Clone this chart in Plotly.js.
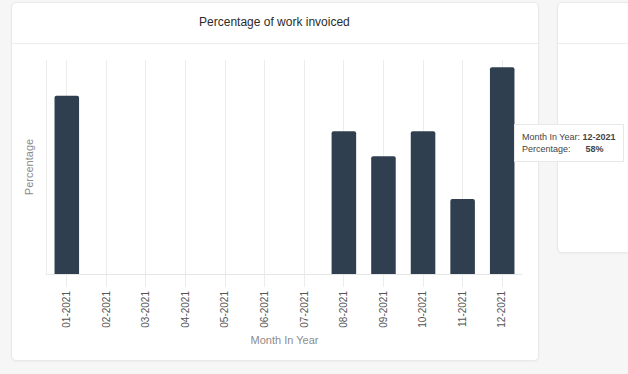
<!DOCTYPE html>
<html>
<head>
<meta charset="utf-8">
<script src="https://cdn.plot.ly/plotly-3.0.1.min.js"></script>
<style>
  html, body { margin: 0; padding: 0; width: 628px; height: 374px; background: #f6f6f6; overflow: hidden; font-family: "Liberation Sans", Arial, sans-serif; }
  .card { position: absolute; background: #fff; border: 1px solid #e9e9e9; border-radius: 5px; box-shadow: 0 1px 2px rgba(0,0,0,0.04); }
  .divider { position: absolute; left: 0; right: 0; top: 40px; height: 1px; background: #ededed; }
  #chart { position: absolute; left: 0; top: 0; width: 628px; height: 374px; }
</style>
</head>
<body>
<div class="card" style="left:11px; top:2px; width:526px; height:357px;"><div class="divider"></div></div>
<div class="card" style="left:557px; top:2px; width:90px; height:249px;"><div class="divider"></div></div>
<div id="chart"></div>
<script>
const months = ["01-2021","02-2021","03-2021","04-2021","05-2021","06-2021","07-2021","08-2021","09-2021","10-2021","11-2021","12-2021"];
const percentage = [50, 0, 0, 0, 0, 0, 0, 40, 33, 40, 21, 58];
const chartTitle = "Percentage of work invoiced";
const xTitle = "Month In Year";
const yTitle = "Percentage";
const hoverIndex = 11;

const trace = {
  type: "bar",
  x: months,
  y: percentage,
  marker: { color: "#2f3f50", cornerradius: 2 },
  hoverinfo: "none"
};

const layout = {
  width: 628, height: 374,
  margin: { l: 47, r: 106, t: 60, b: 100 },
  paper_bgcolor: "rgba(0,0,0,0)",
  plot_bgcolor: "rgba(0,0,0,0)",
  bargap: 0.38,
  showlegend: false,
  font: { family: "Liberation Sans, Arial, sans-serif" },
  title: {
    text: chartTitle,
    font: { size: 12, color: "#2b2b2b" },
    x: 0.437, xref: "container", xanchor: "center",
    y: 1 - 22/374, yref: "container", yanchor: "middle"
  },
  xaxis: {
    type: "category",
    tickangle: -90,
    tickfont: { size: 10, color: "#555555" },
    showgrid: true, gridcolor: "#ececec", gridwidth: 1,
    ticks: "outside", ticklen: 12, tickcolor: "#ececec",
    showline: true, linecolor: "#e6e6e6", linewidth: 1,
    title: { text: xTitle, font: { size: 11, color: "#8c8c8c" }, standoff: 9 },
    fixedrange: true
  },
  yaxis: {
    range: [0, 60],
    showticklabels: false,
    showgrid: false,
    zeroline: false,
    showline: true, linecolor: "#ececec", linewidth: 1,
    title: { text: yTitle, font: { size: 11, color: "#8c8c8c" }, standoff: 10 },
    fixedrange: true
  },
  annotations: [{
    xref: "paper", yref: "paper",
    x: (514-47)/475, y: (274-143)/214,
    xanchor: "left", yanchor: "middle",
    showarrow: false, align: "left",
    text: "Month In Year: <b>" + months[hoverIndex] + "</b><br>Percentage:      <b>" + percentage[hoverIndex] + "%</b>",
    font: { size: 9, color: "#444444" },
    bgcolor: "#ffffff", bordercolor: "#e8e8e8", borderwidth: 1, borderpad: 7
  }]
};

Plotly.newPlot("chart", [trace], layout, { displayModeBar: false, staticPlot: true });
</script>
</body>
</html>
